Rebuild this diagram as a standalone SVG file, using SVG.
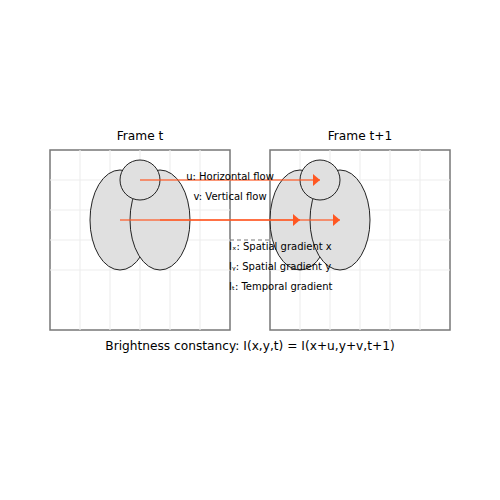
<svg xmlns="http://www.w3.org/2000/svg" width="500" height="500" viewBox="0 0 500 500">
<style>
text{font-family:"DejaVu Sans","Liberation Sans",sans-serif;fill:#000}
.title{font-size:12.2px;text-anchor:middle}
.lbl{font-size:10px}
.frame{fill:#fff;stroke:#777;stroke-width:1.5}
.grid{stroke:#eee;stroke-width:1.2}
.shape{fill:#e0e0e0;stroke:#222;stroke-width:1}
.flow{stroke:#FF5722;stroke-width:1.5;stroke-opacity:0.8;fill:none}
</style>
<defs>
<marker id="ah" markerWidth="8" markerHeight="12" refX="7" refY="6" orient="auto" markerUnits="userSpaceOnUse">
<path d="M0,0 L7,6 L0,12 Z" fill="#FF5722"/>
</marker>
</defs>
<g id="frame-t">
<rect class="frame" x="50" y="150" width="180" height="180"/>
<g class="grid">
<line x1="80" y1="150" x2="80" y2="330"/><line x1="110" y1="150" x2="110" y2="330"/><line x1="140" y1="150" x2="140" y2="330"/><line x1="170" y1="150" x2="170" y2="330"/><line x1="200" y1="150" x2="200" y2="330"/>
<line x1="50" y1="180" x2="230" y2="180"/><line x1="50" y1="210" x2="230" y2="210"/><line x1="50" y1="240" x2="230" y2="240"/><line x1="50" y1="270" x2="230" y2="270"/>
</g>
<text class="title" x="140" y="140">Frame t</text>
<ellipse class="shape" cx="120" cy="220" rx="30" ry="50"/>
<ellipse class="shape" cx="160" cy="220" rx="30" ry="50"/>
<circle class="shape" cx="140" cy="180" r="20"/>
</g>
<g id="frame-t1">
<rect class="frame" x="270" y="150" width="180" height="180"/>
<g class="grid">
<line x1="300" y1="150" x2="300" y2="330"/><line x1="330" y1="150" x2="330" y2="330"/><line x1="360" y1="150" x2="360" y2="330"/><line x1="390" y1="150" x2="390" y2="330"/><line x1="420" y1="150" x2="420" y2="330"/>
<line x1="270" y1="180" x2="450" y2="180"/><line x1="270" y1="210" x2="450" y2="210"/><line x1="270" y1="240" x2="450" y2="240"/><line x1="270" y1="270" x2="450" y2="270"/>
</g>
<text class="title" x="360" y="140">Frame t+1</text>
<ellipse class="shape" cx="300" cy="220" rx="30" ry="50"/>
<ellipse class="shape" cx="340" cy="220" rx="30" ry="50"/>
<circle class="shape" cx="320" cy="180" r="20"/>
</g>
<g id="connectors">
<line class="flow" x1="140" y1="180" x2="320" y2="180" marker-end="url(#ah)"/>
<line class="flow" x1="120" y1="220" x2="300" y2="220" marker-end="url(#ah)"/>
<line class="flow" x1="160" y1="220" x2="340" y2="220" marker-end="url(#ah)"/>
<line x1="230" y1="240" x2="270" y2="240" stroke="#777" stroke-width="1" stroke-dasharray="4,3"/>
</g>
<g id="labels">
<text class="lbl" x="230" y="180" text-anchor="middle">u: Horizontal flow</text>
<text class="lbl" x="230" y="200" text-anchor="middle">v: Vertical flow</text>
<text class="lbl" x="229" y="250">Iₓ: Spatial gradient x</text>
<text class="lbl" x="229" y="270">Iᵧ: Spatial gradient y</text>
<text class="lbl" x="229" y="290">Iₜ: Temporal gradient</text>
<text class="title" x="250" y="350">Brightness constancy: I(x,y,t) = I(x+u,y+v,t+1)</text>
</g>
</svg>
